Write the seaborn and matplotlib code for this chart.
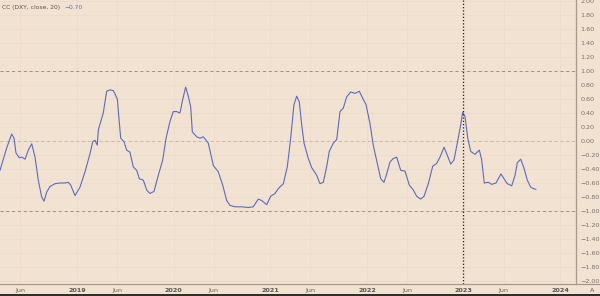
import numpy as np
import pandas as pd
import seaborn as sns
import matplotlib
matplotlib.use("Agg")
import matplotlib.pyplot as plt

# decimal-year time stamps and CC(DXY, close, 20) values
years = [2018.204, 2018.273, 2018.325, 2018.349, 2018.369, 2018.404, 2018.428, 2018.463,
         2018.497, 2018.532, 2018.566, 2018.600, 2018.635, 2018.659, 2018.687, 2018.721,
         2018.773, 2018.824, 2018.876, 2018.910, 2018.935, 2018.980, 2019.031, 2019.083,
         2019.135, 2019.163, 2019.186, 2019.210, 2019.221, 2019.272, 2019.307, 2019.342,
         2019.376, 2019.417, 2019.452, 2019.486, 2019.514, 2019.548, 2019.582, 2019.618,
         2019.645, 2019.686, 2019.721, 2019.755, 2019.797, 2019.841, 2019.887, 2019.921,
         2019.962, 2019.996, 2020.031, 2020.065, 2020.093, 2020.124, 2020.151, 2020.176,
         2020.193, 2020.238, 2020.272, 2020.306, 2020.358, 2020.410, 2020.461, 2020.507,
         2020.548, 2020.582, 2020.634, 2020.703, 2020.772, 2020.823, 2020.875, 2020.910,
         2020.962, 2021.003, 2021.048, 2021.082, 2021.134, 2021.175, 2021.210, 2021.244,
         2021.272, 2021.299, 2021.324, 2021.348, 2021.392, 2021.427, 2021.479, 2021.513,
         2021.547, 2021.582, 2021.609, 2021.651, 2021.686, 2021.720, 2021.754, 2021.789,
         2021.831, 2021.875, 2021.920, 2021.955, 2021.989, 2022.030, 2022.064, 2022.106,
         2022.141, 2022.175, 2022.203, 2022.237, 2022.271, 2022.306, 2022.348, 2022.392,
         2022.437, 2022.478, 2022.513, 2022.554, 2022.589, 2022.633, 2022.679, 2022.720,
         2022.754, 2022.796, 2022.823, 2022.865, 2022.899, 2022.933, 2022.968, 2022.989,
         2023.013, 2023.041, 2023.072, 2023.116, 2023.161, 2023.185, 2023.212, 2023.254,
         2023.289, 2023.333, 2023.357, 2023.385, 2023.416, 2023.450, 2023.496, 2023.530,
         2023.554, 2023.589, 2023.623, 2023.657, 2023.692, 2023.719, 2023.747]
cc_values = [-0.42, -0.10, 0.10, 0.04, -0.17, -0.24, -0.23, -0.26,
             -0.13, -0.04, -0.23, -0.56, -0.80, -0.86, -0.73, -0.65,
             -0.61, -0.60, -0.60, -0.59, -0.63, -0.78, -0.66, -0.44,
             -0.18, -0.01, 0.01, -0.06, 0.16, 0.40, 0.71, 0.73,
             0.72, 0.60, 0.04, -0.01, -0.13, -0.16, -0.37, -0.42,
             -0.54, -0.56, -0.70, -0.75, -0.72, -0.49, -0.27, 0.04,
             0.28, 0.42, 0.42, 0.40, 0.59, 0.77, 0.64, 0.49,
             0.13, 0.06, 0.04, 0.06, -0.03, -0.35, -0.44, -0.63,
             -0.85, -0.92, -0.94, -0.94, -0.95, -0.94, -0.83, -0.85,
             -0.91, -0.79, -0.75, -0.68, -0.61, -0.37, 0.04, 0.52,
             0.64, 0.56, 0.23, -0.03, -0.25, -0.38, -0.49, -0.61,
             -0.59, -0.37, -0.15, -0.03, 0.02, 0.42, 0.47, 0.63,
             0.70, 0.68, 0.71, 0.61, 0.52, 0.25, -0.06, -0.32,
             -0.54, -0.59, -0.47, -0.30, -0.25, -0.23, -0.42, -0.43,
             -0.63, -0.70, -0.79, -0.83, -0.79, -0.61, -0.36, -0.32,
             -0.23, -0.09, -0.18, -0.33, -0.27, -0.03, 0.23, 0.41,
             0.35, 0.04, -0.15, -0.19, -0.13, -0.27, -0.60, -0.59,
             -0.62, -0.60, -0.54, -0.47, -0.54, -0.61, -0.64, -0.49,
             -0.31, -0.26, -0.39, -0.56, -0.66, -0.68, -0.69]

y_ticks = [2.0, 1.8, 1.6, 1.4, 1.2, 1.0, 0.8, 0.6, 0.4, 0.2, 0.0,
           -0.2, -0.4, -0.6, -0.8, -1.0, -1.2, -1.4, -1.6, -1.8, -2.0]
year_ticks = [2019, 2020, 2021, 2022, 2023, 2024]
june_ticks = [2018.414, 2019.414, 2020.414, 2021.414, 2022.414, 2023.414]
ref_levels = [1.0, 0.0, -1.0]
cursor_year = 2022.99
title_text = "CC (DXY, close, 20)"
last_text = "\u22120.70"

df = pd.DataFrame({"year": years, "cc": cc_values})

BG = "#f2e2d2"
LINE = "#5b6bc4"

sns.set_theme(style="white")
plt.rcParams["font.family"] = ["DejaVu Sans"]

fig = plt.figure(figsize=(6.0, 2.96), dpi=100, facecolor=BG)
ax = fig.add_axes([0.0, 12 / 296, 576 / 600, 284 / 296])
ax.set_facecolor(BG)

# faint grid
for t in y_ticks:
    ax.axhline(t, color="#ecdaca", lw=0.5, zorder=0)
for t in year_ticks + june_ticks:
    ax.axvline(t, color="#ecdaca", lw=0.5, zorder=0)

# reference levels
ax.axhline(ref_levels[0], color="#9c8f84", lw=0.7, ls=(0, (3, 3)), zorder=1)
ax.axhline(ref_levels[1], color="#c9b7a6", lw=0.7, ls=(0, (3, 3)), zorder=1)
ax.axhline(ref_levels[2], color="#9c8f84", lw=0.7, ls=(0, (3, 3)), zorder=1)

sns.lineplot(data=df, x="year", y="cc", ax=ax, color=LINE, lw=0.8, zorder=3)

ax.axvline(cursor_year, color="#222222", lw=0.9, ls=(0, (1, 1.6)), zorder=4)

x0 = 2018.204
ax.set_xlim(x0, x0 + 576 / 96.7)
ax.set_ylim(-2.043, 2.014)

ax.yaxis.tick_right()
ax.set_yticks(y_ticks)
ax.set_yticklabels([f"{t:.2f}".replace("-", "\u2212") for t in y_ticks],
                   fontsize=4.6, color="#7a7068")
ax.tick_params(axis="y", length=0, pad=3)

xt = sorted(year_ticks + june_ticks)
ax.set_xticks(xt)
labels = [str(int(round(t))) if abs(t - round(t)) < 0.01 else "Jun" for t in xt]
ax.set_xticklabels(labels, fontsize=4.6, color="#6a625c")
for lab, t in zip(ax.get_xticklabels(), xt):
    if abs(t - round(t)) < 0.01:
        lab.set_fontweight("bold")
        lab.set_color("#5a534e")
ax.tick_params(axis="x", length=0, pad=3)
ax.set_xlabel("")
ax.set_ylabel("")

for s in ["top", "left"]:
    ax.spines[s].set_visible(False)
ax.spines["right"].set_color("#a8998c")
ax.spines["right"].set_linewidth(0.9)
ax.spines["bottom"].set_color("#a8998c")
ax.spines["bottom"].set_linewidth(0.9)

# bottom band extension line and dark bottom edge
fig.add_artist(plt.Line2D([576 / 600, 1.0], [12 / 296, 12 / 296], color="#a8998c", lw=0.9))
fig.add_artist(plt.Line2D([0, 1.0], [1.2 / 296, 1.2 / 296], color="#2a2a2a", lw=1.4))
fig.text(592 / 600, 1 - 290 / 296, "A", fontsize=4.6, color="#5a534e", ha="center", va="center")

title_artist = ax.text(0.004, 0.975, title_text, transform=ax.transAxes,
                       fontsize=4.3, color="#5a534e", ha="left", va="center")
ax.annotate(last_text, xy=(1, 0.5), xycoords=title_artist, xytext=(3, 0),
            textcoords="offset points", fontsize=4.3, color=LINE,
            ha="left", va="center")

fig.savefig("out.png", dpi=100, facecolor=BG)
